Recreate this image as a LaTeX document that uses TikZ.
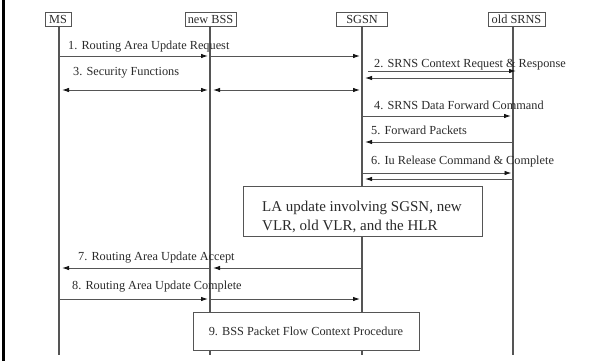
\documentclass[tikz,border=0pt]{standalone}
\usepackage{fontspec}
\setmainfont{Liberation Serif}
\usetikzlibrary{arrows.meta}
\definecolor{linec}{HTML}{555555}
\definecolor{txtc}{HTML}{2A2A2A}
\definecolor{tipc}{HTML}{151515}
\begin{document}
\begin{tikzpicture}[x=1pt,y=-1pt,
  hdr/.style={draw=linec, line width=0.9pt, fill=white, text=txtc, inner sep=0pt,
    minimum height=14pt, font=\fontsize{12.3}{14}\selectfont},
  life/.style={draw=linec, line width=1.1pt},
  msg/.style={draw=linec, line width=0.9pt, -{Latex[length=7pt,width=4.5pt,color=tipc]}},
  dmsg/.style={draw=linec, line width=0.9pt, {Latex[length=7pt,width=4.5pt,color=tipc]}-{Latex[length=7pt,width=4.5pt,color=tipc]}},
  lbl/.style={text=txtc, anchor=base west, inner sep=0pt, font=\fontsize{12.3}{14}\selectfont},
  pbox/.style={draw=linec, line width=0.9pt, fill=white, text=txtc, inner sep=0pt}
]
\useasboundingbox (0,0) rectangle (605,361);
\fill[black] (2,0) rectangle (4.5,361);

% headers
\node[hdr, minimum width=26pt] (ms) at (58,19) {MS};
\node[hdr, minimum width=51pt] (bss) at (210.5,19) {new BSS};
\node[hdr, minimum width=50.5pt] (sgsn) at (362,19) {SGSN};
\node[hdr, minimum width=57pt] (srns) at (516.5,19) {old SRNS};

% lifeline coordinates
\coordinate (xMS) at (59,26);
\coordinate (xBSS) at (210,26);
\coordinate (xSG) at (362,26);
\coordinate (xSR) at (513,26);
\coordinate (yend) at (0,355);

\draw[life] (xMS) -- (xMS |- yend);
\draw[life] (xBSS) -- (xBSS |- yend);
\draw[life] (xSG) -- (xSG |- yend);
\draw[life] (xSR) -- (xSR |- yend);

% message rows
\coordinate (y1) at (0,56);
\coordinate (y3) at (0,90);
\coordinate (y2a) at (0,71);
\coordinate (y2b) at (0,78);
\coordinate (y4) at (0,116);
\coordinate (y5) at (0,142);
\coordinate (y6a) at (0,173);
\coordinate (y6b) at (0,179);
\coordinate (y7) at (0,268);
\coordinate (y8) at (0,299);

% 1
\node[lbl] (l1) at (68,49) {1. Routing Area Update Request};
\draw[msg, shorten >=2pt] (xMS |- y1) -- (xBSS |- y1);
\draw[msg, shorten >=2pt] (xBSS |- y1) -- (xSG |- y1);
% 2
\node[lbl] (l2) at (374,67) {2. SRNS Context Request \& Response};
\draw[msg, shorten <=6pt, shorten >=-3pt] (xSG |- y2a) -- (xSR |- y2a);
\draw[msg, shorten >=3pt] (xSR |- y2b) -- (xSG |- y2b);
% 3
\node[lbl] (l3) at (73,76) {3. Security Functions};
\draw[dmsg, shorten <=3pt, shorten >=2pt] (xMS |- y3) -- (xBSS |- y3);
\draw[dmsg, shorten <=3pt, shorten >=2pt] (xBSS |- y3) -- (xSG |- y3);
% 4
\node[lbl] (l4) at (374,109) {4. SRNS Data Forward Command};
\draw[msg, shorten >=2pt] (xSG |- y4) -- (xSR |- y4);
% 5
\node[lbl] (l5) at (371,134) {5. Forward Packets};
\draw[msg, shorten >=3pt] (xSR |- y5) -- (xSG |- y5);
% 6
\node[lbl] (l6) at (371,164) {6. Iu Release Command \& Complete};
\draw[msg, shorten >=1.5pt] (xSG |- y6a) -- (xSR |- y6a);
\draw[msg, shorten >=3pt] (xSR |- y6b) -- (xSG |- y6b);

% LA box
\node[pbox, minimum width=239pt, minimum height=50pt] (la) at (362.5,211) {};
\node[text=txtc, inner sep=0pt, align=left, font=\fontsize{15}{18.3}\selectfont] (latxt) at (362,217)
  {LA update involving SGSN, new\\VLR, old VLR, and the HLR};

% 7
\node[lbl] (l7) at (78,260) {7. Routing Area Update Accept};
\draw[msg, shorten >=3pt] (xSG |- y7) -- (xBSS |- y7);
\draw[msg, shorten >=3pt] (xBSS |- y7) -- (xMS |- y7);
% 8
\node[lbl] (l8) at (72,289) {8. Routing Area Update Complete};
\draw[msg, shorten >=2pt] (xMS |- y8) -- (xBSS |- y8);
\draw[msg, shorten >=2pt] (xBSS |- y8) -- (xSG |- y8);

% 9
\node[pbox, minimum width=226pt, minimum height=38pt, font=\fontsize{12.3}{14}\selectfont] (bssp) at (306,331)
  {9. BSS Packet Flow Context Procedure};
\end{tikzpicture}
\end{document}
